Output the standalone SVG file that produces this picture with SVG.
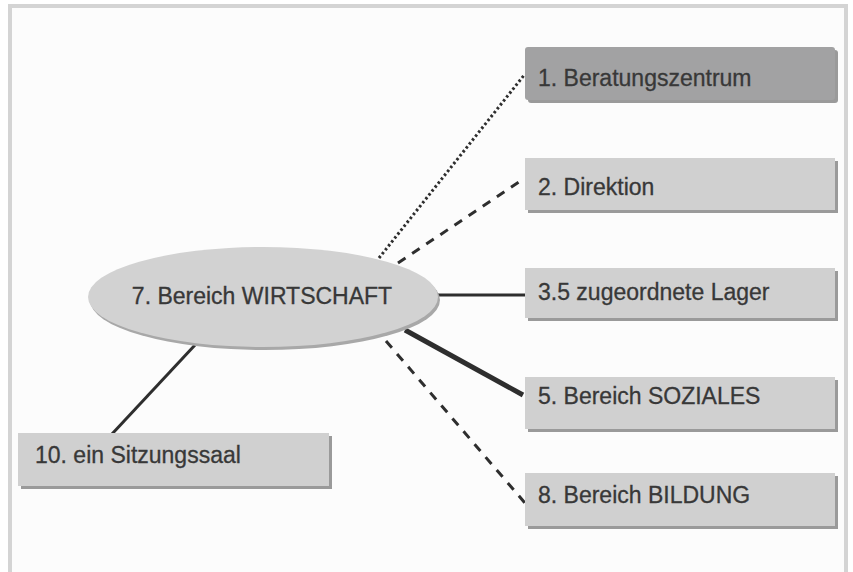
<svg xmlns="http://www.w3.org/2000/svg" width="853" height="572" viewBox="0 0 853 572">
<defs>
<style>
.box{fill:#d0d0d0;}
.dark{fill:#a2a2a3;}
.sh{fill:#9a9a9a;}
.lbl{font-family:"Liberation Sans",Arial,sans-serif;font-size:23px;fill:#383838;stroke:#383838;stroke-width:0.3;}
.c{stroke:#2e2e2e;fill:none;}
</style>
</defs>
<rect x="0" y="0" width="853" height="572" fill="#ffffff"/>
<rect x="12" y="8" width="832" height="570" fill="#fcfcfc"/>
<path d="M10 580 V6 H846 V580" fill="none" stroke="#d4d4d4" stroke-width="4"/>
<g id="connectors">
<line class="c" x1="379" y1="258" x2="525" y2="74" stroke-width="3" stroke-dasharray="2.5,2.5"/>
<line class="c" x1="398" y1="263" x2="525" y2="178" stroke-width="3" stroke-dasharray="9,8"/>
<line class="c" x1="438" y1="295" x2="525" y2="295" stroke-width="3"/>
<line class="c" x1="405" y1="330" x2="523" y2="395" stroke-width="5"/>
<line class="c" x1="386" y1="341" x2="525" y2="503" stroke-width="3" stroke-dasharray="9,8"/>
<line class="c" x1="195" y1="345" x2="112" y2="434" stroke-width="3"/>
</g>
<g id="center">
<ellipse cx="265" cy="300" rx="175" ry="50" fill="#a8a8a8"/>
<ellipse cx="263" cy="297" rx="175" ry="50" fill="#d2d2d2"/>
<text class="lbl" x="262" y="304" text-anchor="middle">7. Bereich WIRTSCHAFT</text>
</g>
<g id="n1">
<rect class="sh" x="528" y="50" width="310" height="53" rx="3"/>
<rect class="dark" x="525" y="47" width="310" height="53" rx="3"/>
<text class="lbl" x="538" y="86">1. Beratungszentrum</text>
</g>
<g id="n2">
<rect class="sh" x="528" y="161" width="310" height="52"/>
<rect class="box" x="525" y="158" width="310" height="52"/>
<text class="lbl" x="538" y="195">2. Direktion</text>
</g>
<g id="n3">
<rect class="sh" x="528" y="271" width="310" height="50"/>
<rect class="box" x="525" y="268" width="310" height="50"/>
<text class="lbl" x="538" y="300">3.5 zugeordnete Lager</text>
</g>
<g id="n5">
<rect class="sh" x="528" y="380" width="310" height="52"/>
<rect class="box" x="525" y="377" width="310" height="52"/>
<text class="lbl" x="538" y="404">5. Bereich SOZIALES</text>
</g>
<g id="n8">
<rect class="sh" x="528" y="476" width="310" height="53"/>
<rect class="box" x="525" y="473" width="310" height="53"/>
<text class="lbl" x="538" y="503">8. Bereich BILDUNG</text>
</g>
<g id="n10">
<rect class="sh" x="21" y="436" width="311" height="53"/>
<rect class="box" x="18" y="433" width="311" height="53"/>
<text class="lbl" x="35" y="463">10. ein Sitzungssaal</text>
</g>
</svg>
